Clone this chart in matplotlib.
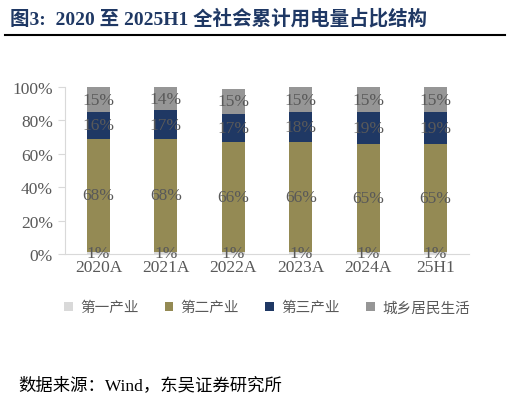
import numpy as np
import matplotlib.pyplot as plt

plt.rcParams['font.family'] = ['Liberation Serif', 'Noto Sans CJK SC']

categories = ["2020A", "2021A", "2022A", "2023A", "2024A", "25H1"]
primary = [1, 1, 1, 1, 1, 1]
secondary = [68, 68, 66, 66, 65, 65]
tertiary = [16, 17, 17, 18, 19, 19]
residential = [15, 14, 15, 15, 15, 15]

series = [
    ("第一产业", primary, "#d9d9d9"),
    ("第二产业", secondary, "#948a54"),
    ("第三产业", tertiary, "#1f3864"),
    ("城乡居民生活", residential, "#969696"),
]

fig = plt.figure(figsize=(5.1, 4.02), dpi=100)
ax = fig.add_axes([0.127, 0.366, 0.793, 0.415])

x = np.arange(len(categories))
bottom = np.zeros(len(categories))
for name, vals, color in series:
    vals = np.array(vals, dtype=float)
    ax.bar(x, vals, 0.34, bottom=bottom, color=color, label=name)
    for xi, b, v in zip(x, bottom, vals):
        ax.text(xi, b + v / 2, f"{int(v)}%", ha="center", va="center",
                fontsize=12.5, color="#595959")
    bottom += vals

ax.set_ylim(0, 100)
ax.set_xlim(-0.5, len(categories) - 0.5)
ax.set_yticks(range(0, 101, 20))
ax.set_yticklabels([f"{v}%" for v in range(0, 101, 20)], fontsize=12.5, color="#595959")
ax.set_xticks(x)
ax.set_xticklabels(categories, fontsize=12.5, color="#595959")
for s in ["top", "right"]:
    ax.spines[s].set_visible(False)
ax.spines["left"].set_color("#d9d9d9")
ax.spines["bottom"].set_color("#d9d9d9")
ax.tick_params(axis="y", color="#d9d9d9", length=5)
ax.tick_params(axis="x", length=0)

ax.legend(loc="upper center", bbox_to_anchor=(0.5, -0.2), ncol=4, frameon=False,
          prop={"family": "Noto Sans CJK SC", "size": 10.5}, labelcolor="#595959",
          handlelength=0.6, handleheight=0.6, columnspacing=1.8, handletextpad=0.5)

fig.text(0.02, 0.955, "图3:  2020 至 2025H1 全社会累计用电量占比结构", fontsize=14,
         fontweight="bold", color="#1f3864", va="center",
         family=["Liberation Serif", "Noto Sans CJK SC"])
fig.add_artist(plt.Line2D([0.01, 0.99], [0.91, 0.91], color="black", lw=1.5))
fig.text(0.035, 0.04, "数据来源：Wind，东吴证券研究所", fontsize=12.5, color="black", va="center",
         family=["Liberation Serif", "Noto Sans CJK SC"])

fig.savefig("out.png", dpi=100)
